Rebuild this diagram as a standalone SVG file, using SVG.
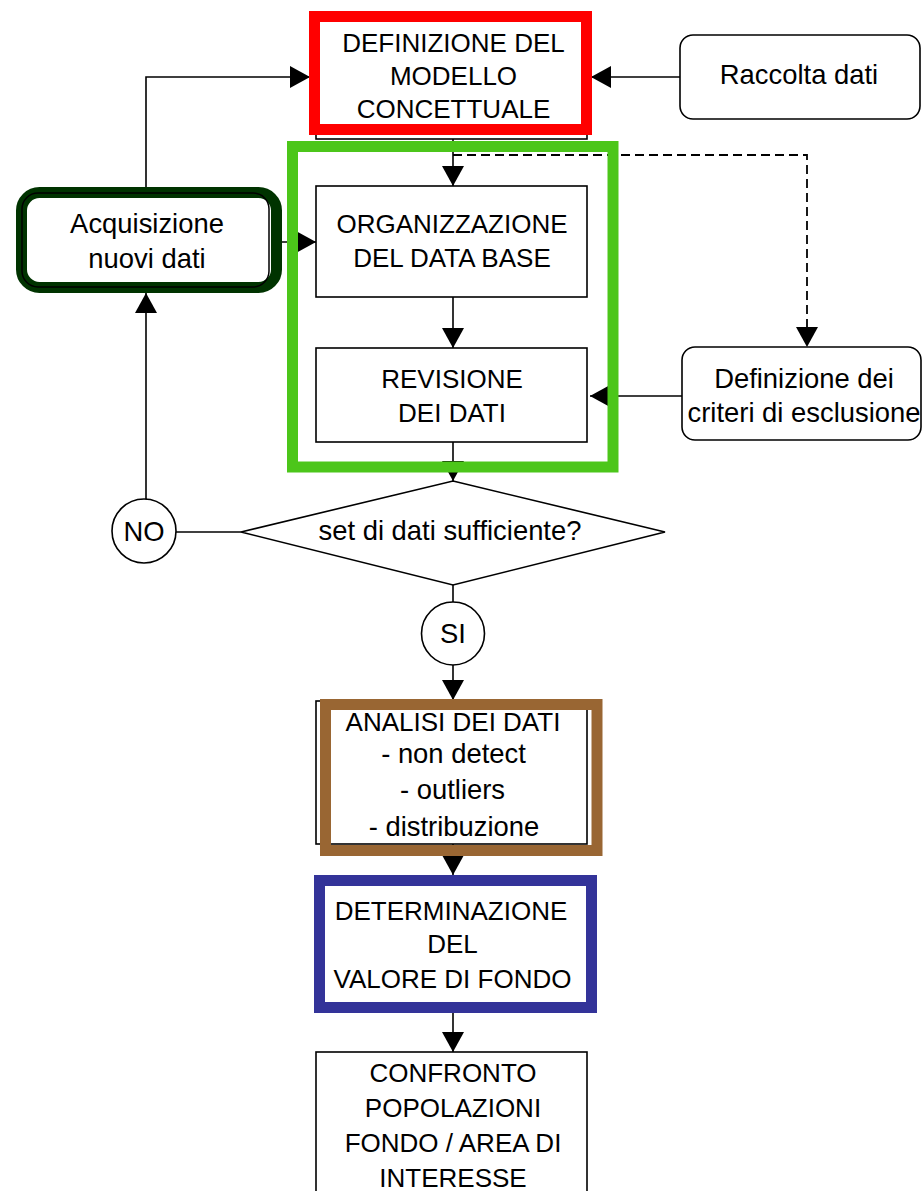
<svg xmlns="http://www.w3.org/2000/svg" width="924" height="1191" viewBox="0 0 924 1191">
<style>
text{font-family:"Liberation Sans",Arial,sans-serif;font-size:26px;fill:#000;text-anchor:middle}
text.lc{font-size:27.4px}
.ln{fill:none;stroke:#000;stroke-width:1.6}
.dash{fill:none;stroke:#000;stroke-width:1.8;stroke-dasharray:9,5}
.box{fill:#fff;stroke:#000;stroke-width:1.6}
</style>
<defs>
<marker id="ah" markerUnits="userSpaceOnUse" markerWidth="20" markerHeight="22" refX="20" refY="11" orient="auto">
<path d="M0,0 L20,11 L0,22 Z" fill="#000"/>
</marker>
</defs>
<rect width="924" height="1191" fill="#fff"/>
<g id="connectors">
<path class="ln" d="M146,187 L146,77 L310,77" marker-end="url(#ah)"/>
<path class="ln" d="M680,77 L591,77" marker-end="url(#ah)"/>
<path class="ln" d="M453,139 L453,186" marker-end="url(#ah)"/>
<path class="dash" d="M453,155 L807,155 L807,347" marker-end="url(#ah)"/>
<path class="ln" d="M453,297 L453,348" marker-end="url(#ah)"/>
<path class="ln" d="M282,242 L316,242" marker-end="url(#ah)"/>
<path class="ln" d="M682,396 L590,396" marker-end="url(#ah)"/>
<path class="ln" d="M453,442 L453,481" marker-end="url(#ah)"/>
<path class="ln" d="M146,499 L146,293" marker-end="url(#ah)"/>
<path class="ln" d="M176,532 L241,532"/>
<path class="ln" d="M453,585 L453,602"/>
<path class="ln" d="M453,665 L453,700" marker-end="url(#ah)"/>
<path class="ln" d="M453,844 L453,875" marker-end="url(#ah)"/>
<path class="ln" d="M453,1013 L453,1052" marker-end="url(#ah)"/>
</g>
<g id="definizione-modello">
<rect class="box" x="316" y="20" width="271" height="119"/>
<rect x="314.5" y="16.5" width="272" height="113" fill="#fff" stroke="#ff0000" stroke-width="11"/>
<text x="453.5" y="52">DEFINIZIONE DEL</text>
<text x="453.5" y="85">MODELLO</text>
<text x="453.5" y="118">CONCETTUALE</text>
</g>
<g id="raccolta-dati">
<rect class="box" x="680" y="35" width="240" height="84" rx="13"/>
<text class="lc" x="799" y="84">Raccolta dati</text>
</g>
<g id="acquisizione">
<rect x="21.5" y="192.5" width="255" height="95" rx="18" fill="#fff" stroke="#003300" stroke-width="11"/>
<rect x="22" y="193" width="247" height="94" rx="16" fill="none" stroke="#000" stroke-width="1.5"/>
<text class="lc" x="147" y="233">Acquisizione</text>
<text class="lc" x="147" y="268">nuovi dati</text>
</g>
<g id="organizzazione">
<rect class="box" x="316" y="186" width="271" height="111"/>
<text x="452" y="233">ORGANIZZAZIONE</text>
<text x="452" y="267">DEL DATA BASE</text>
</g>
<g id="revisione">
<rect class="box" x="316" y="348" width="271" height="94"/>
<text x="452" y="388">REVISIONE</text>
<text x="452" y="422">DEI DATI</text>
</g>
<g id="gruppo-verde">
<rect x="292.5" y="146.5" width="320.5" height="320.5" fill="none" stroke="#4cc61a" stroke-width="11"/>
</g>
<g id="criteri-esclusione">
<rect class="box" x="682" y="347" width="239" height="93" rx="13"/>
<text class="lc" x="804" y="388">Definizione dei</text>
<text class="lc" x="804" y="422">criteri di esclusione</text>
</g>
<g id="decisione">
<polygon class="box" points="453,481 665,532 453,585 241,532"/>
<text class="lc" x="450" y="540">set di dati sufficiente?</text>
</g>
<g id="no">
<circle class="box" cx="144" cy="531" r="32"/>
<text class="lc" x="144" y="541">NO</text>
</g>
<g id="si">
<circle class="box" cx="453" cy="633.5" r="31.5"/>
<text class="lc" x="453" y="643">SI</text>
</g>
<g id="analisi">
<rect class="box" x="316" y="701" width="271" height="143"/>
<rect x="325.5" y="704.5" width="271.5" height="146" fill="none" stroke="#996633" stroke-width="11"/>
<text x="453" y="731">ANALISI DEI DATI</text>
<text class="lc" x="453.5" y="763">- non detect</text>
<text class="lc" x="452.5" y="799">- outliers</text>
<text class="lc" x="454" y="836">- distribuzione</text>
</g>
<g id="determinazione">
<rect x="319.5" y="880.5" width="272" height="127" fill="#fff" stroke="#333399" stroke-width="11"/>
<text x="451" y="920">DETERMINAZIONE</text>
<text x="452.5" y="953">DEL</text>
<text x="452.5" y="988">VALORE DI FONDO</text>
</g>
<g id="confronto">
<rect class="box" x="316" y="1052" width="271" height="150"/>
<text x="453" y="1082">CONFRONTO</text>
<text x="453" y="1117">POPOLAZIONI</text>
<text x="453" y="1152">FONDO / AREA DI</text>
<text x="453" y="1187">INTERESSE</text>
</g>
</svg>
